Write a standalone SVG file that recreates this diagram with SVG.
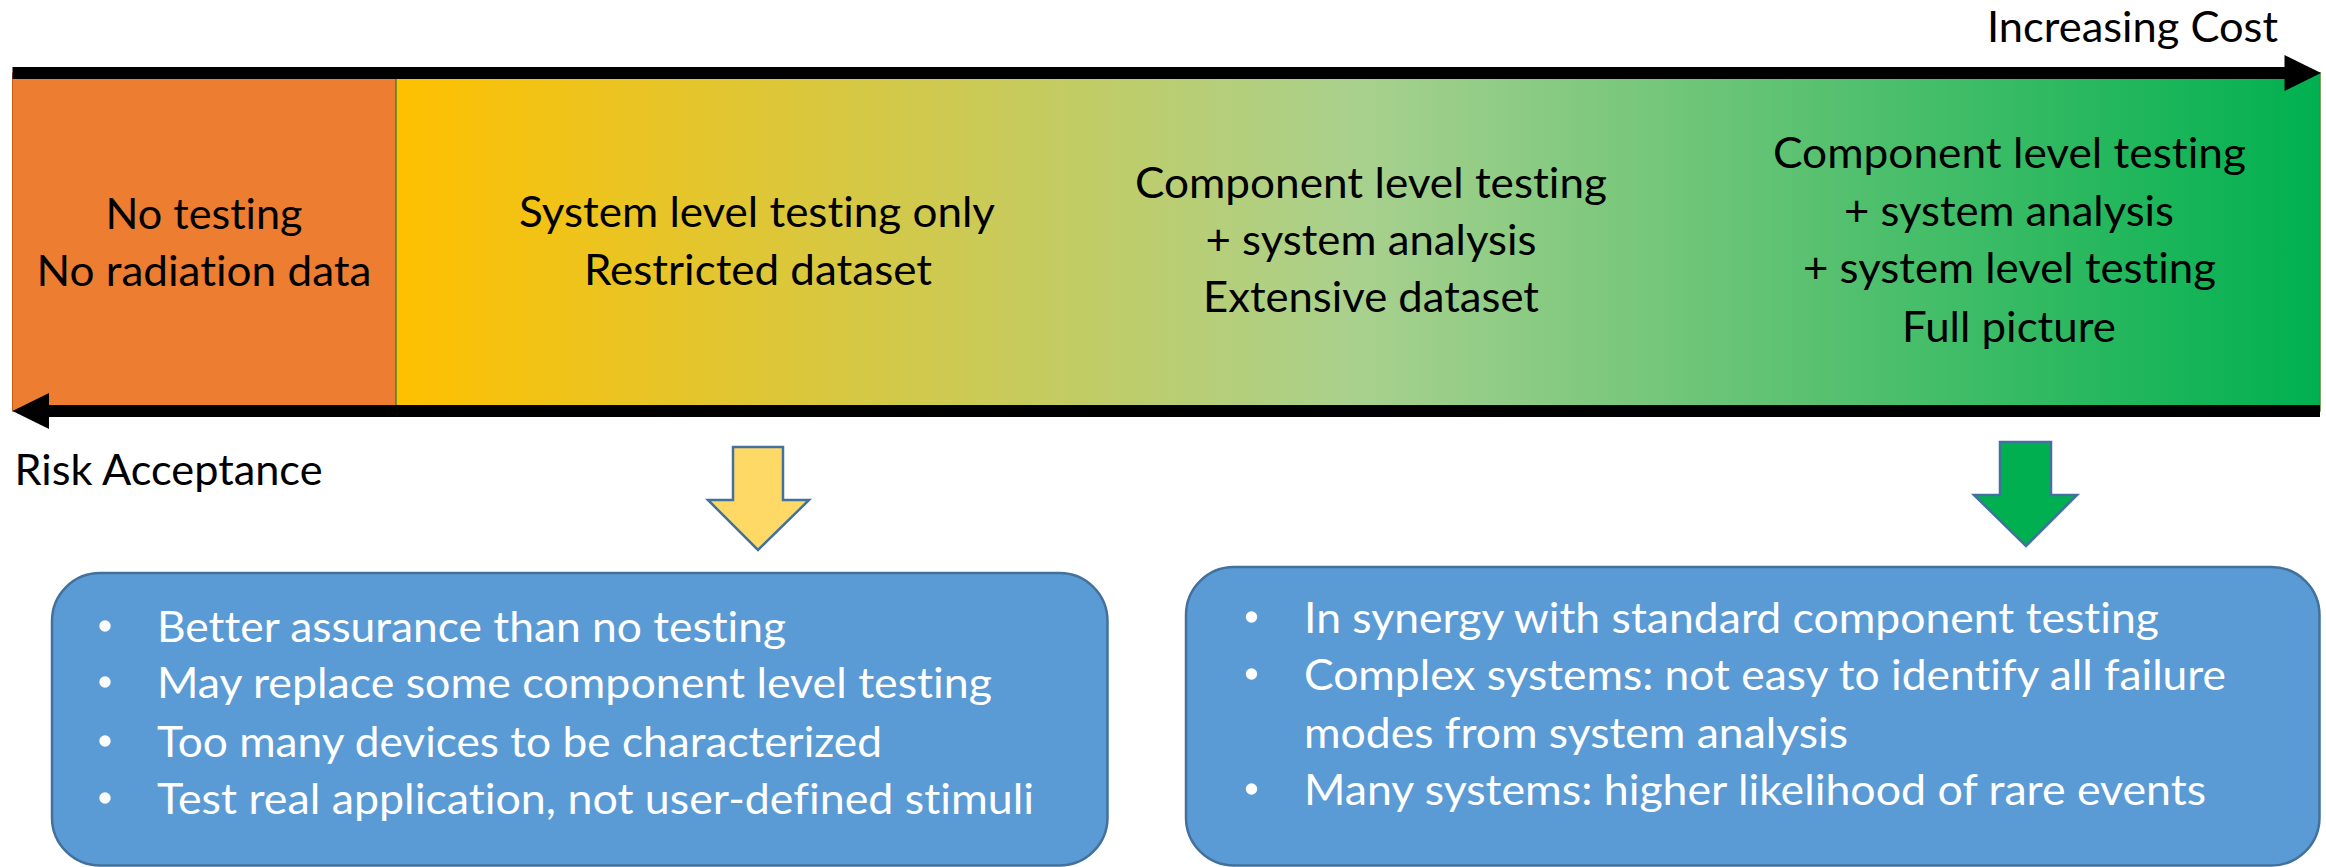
<svg xmlns="http://www.w3.org/2000/svg" width="2326" height="867" viewBox="0 0 2326 867">
<style>
  .lbl { font-family: Lato, "Noto Sans", "Liberation Sans", sans-serif; font-size: 43px; fill: #000; font-variant-ligatures: none; }
  .mid { text-anchor: middle; }
  .wt { font-family: Lato, "Noto Sans", "Liberation Sans", sans-serif; font-size: 43px; fill: #fff; font-variant-ligatures: none; }
  .box { fill: #5B9BD5; stroke: #41719C; stroke-width: 2.5; }
  .dn { stroke: #41719C; stroke-width: 2.5; stroke-linejoin: miter; }
  .bul { fill: #fff; }
</style>
<defs>
  <linearGradient id="grad" x1="0" y1="0" x2="1" y2="0">
    <stop offset="0" stop-color="#FFC000"/>
    <stop offset="0.5" stop-color="#A9D18E"/>
    <stop offset="1" stop-color="#00B050"/>
  </linearGradient>
</defs>
<rect width="2326" height="867" fill="#fff"/>

<g id="band-none">
  <rect x="12.5" y="73" width="383.5" height="338" fill="#ED7D31" stroke="#C55A11" stroke-width="1"/>
  <text class="lbl mid" x="204" y="229" textLength="197" lengthAdjust="spacingAndGlyphs">No testing</text>
  <text class="lbl mid" x="204" y="286" textLength="335" lengthAdjust="spacingAndGlyphs">No radiation data</text>
</g>

<g id="band-gradient">
  <rect x="396" y="73" width="1924" height="338" fill="url(#grad)" stroke="#548235" stroke-width="1.5"/>
</g>

<g id="system-level">
  <text class="lbl mid" x="757" y="227" textLength="476" lengthAdjust="spacingAndGlyphs">System level testing only</text>
  <text class="lbl mid" x="758" y="285" textLength="348" lengthAdjust="spacingAndGlyphs">Restricted dataset</text>
</g>

<g id="component-level">
  <text class="lbl mid" x="1371" y="198" textLength="472" lengthAdjust="spacingAndGlyphs">Component level testing</text>
  <text class="lbl mid" x="1371" y="255" textLength="331" lengthAdjust="spacingAndGlyphs">+ system analysis</text>
  <text class="lbl mid" x="1371" y="312" textLength="336" lengthAdjust="spacingAndGlyphs">Extensive dataset</text>
</g>

<g id="full-picture">
  <text class="lbl mid" x="2009.5" y="168" textLength="473" lengthAdjust="spacingAndGlyphs">Component level testing</text>
  <text class="lbl mid" x="2009" y="226" textLength="330" lengthAdjust="spacingAndGlyphs">+ system analysis</text>
  <text class="lbl mid" x="2009.5" y="283" textLength="413" lengthAdjust="spacingAndGlyphs">+ system level testing</text>
  <text class="lbl mid" x="2009" y="342" textLength="214" lengthAdjust="spacingAndGlyphs">Full picture</text>
</g>

<g id="connectors">
  <rect x="12.5" y="67" width="2273" height="12" fill="#000"/>
  <polygon points="2284.5,55 2321,73 2284.5,91" fill="#000"/>
  <rect x="48" y="405" width="2272" height="12" fill="#000"/>
  <polygon points="49,393 12.5,411 49,429" fill="#000"/>
  <polygon class="dn" fill="#FFD966" points="733,447 783,447 783,500 809,500 758,550 708,500 733,500"/>
  <polygon class="dn" fill="#00B050" points="2000,442 2051,442 2051,495 2077,495 2026,546 1974,495 2000,495"/>
</g>

<g id="axis-labels">
  <text class="lbl" x="1987" y="42" textLength="291" lengthAdjust="spacingAndGlyphs">Increasing Cost</text>
  <text class="lbl" x="14.5" y="485" textLength="308" lengthAdjust="spacingAndGlyphs">Risk Acceptance</text>
</g>

<g id="box-system">
  <rect class="box" x="52" y="573" width="1055.5" height="292.5" rx="48" ry="48"/>
  <circle class="bul" cx="105" cy="626" r="5.7"/>
  <circle class="bul" cx="105" cy="682" r="5.7"/>
  <circle class="bul" cx="105" cy="741" r="5.7"/>
  <circle class="bul" cx="105" cy="798" r="5.7"/>
  <text class="wt" x="157" y="642" textLength="629" lengthAdjust="spacingAndGlyphs">Better assurance than no testing</text>
  <text class="wt" x="157" y="698" textLength="835" lengthAdjust="spacingAndGlyphs">May replace some component level testing</text>
  <text class="wt" x="157" y="757" textLength="725" lengthAdjust="spacingAndGlyphs">Too many devices to be characterized</text>
  <text class="wt" x="157" y="814" textLength="877" lengthAdjust="spacingAndGlyphs">Test real application, not user-defined stimuli</text>
</g>

<g id="box-full">
  <rect class="box" x="1186" y="567" width="1133.5" height="298.5" rx="48" ry="48"/>
  <circle class="bul" cx="1251.5" cy="617" r="5.7"/>
  <circle class="bul" cx="1251.5" cy="674" r="5.7"/>
  <circle class="bul" cx="1251.5" cy="789" r="5.7"/>
  <text class="wt" x="1304" y="633" textLength="855" lengthAdjust="spacingAndGlyphs">In synergy with standard component testing</text>
  <text class="wt" x="1304" y="690" textLength="922" lengthAdjust="spacingAndGlyphs">Complex systems: not easy to identify all failure</text>
  <text class="wt" x="1304" y="748" textLength="544" lengthAdjust="spacingAndGlyphs">modes from system analysis</text>
  <text class="wt" x="1304" y="805" textLength="902" lengthAdjust="spacingAndGlyphs">Many systems: higher likelihood of rare events</text>
</g>
</svg>
